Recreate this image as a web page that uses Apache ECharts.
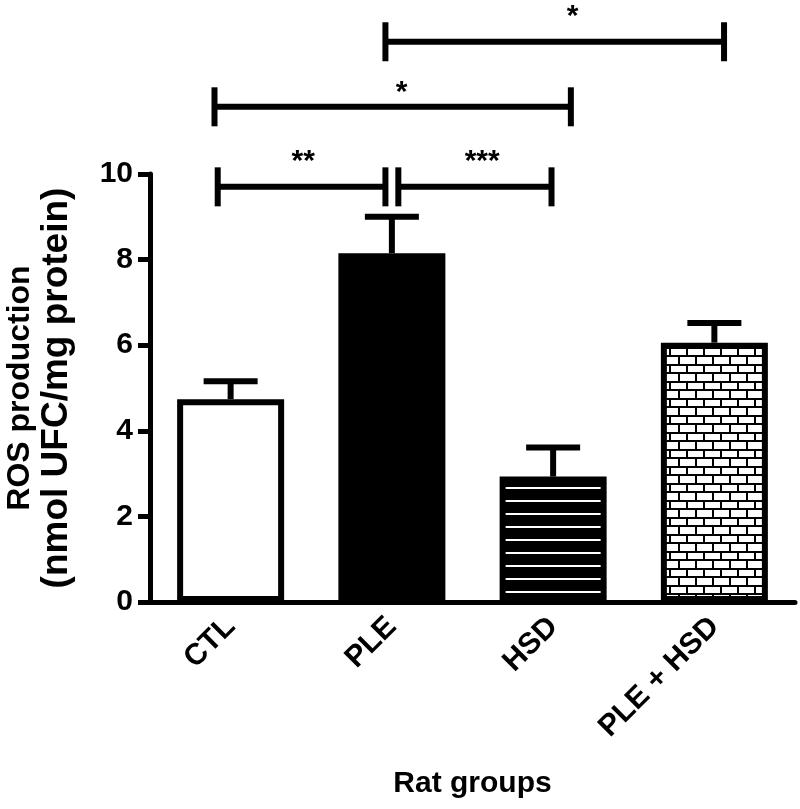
<!DOCTYPE html>
<html><head><meta charset="utf-8">
<script src="https://cdn.jsdelivr.net/npm/echarts@6/dist/echarts.min.js"></script>
<style>html,body{margin:0;padding:0;background:#fff}#c{width:800px;height:809px}</style>
</head><body><div id="c"></div>
<script>
// ---- data ----
const categories = ['CTL', 'PLE', 'HSD', 'PLE + HSD'];
const meanValues = [4.74, 8.15, 2.93, 6.06];
const errorTopValues = [5.16, 9.0, 3.61, 6.52];
const yTickValues = [0, 2, 4, 6, 8, 10];
// significance brackets (x in category units, level in y units)
const bracketStart = [-0.08, 1.04, -0.10, 0.96];
const bracketEnd = [0.96, 1.99, 2.11, 3.06];
const bracketLevel = [9.70, 9.70, 11.57, 13.09];
const bracketLabels = ['**', '***', '*', '*'];
const bracketLabelX = [0.45, 1.56, 1.06, 2.12];
const bracketLabelY = [10.44, 10.44, 12.06, 13.83];

// ---- patterns ----
function linePattern() {
  const c = document.createElement('canvas'); c.width = 10; c.height = 13;
  const g = c.getContext('2d');
  g.fillStyle = '#000'; g.fillRect(0, 0, 10, 13);
  g.fillStyle = '#fff'; g.fillRect(0, 6, 10, 2);
  return c;
}
function brickPattern() {
  const c = document.createElement('canvas'); c.width = 17; c.height = 17;
  const g = c.getContext('2d');
  g.fillStyle = '#000'; g.fillRect(0, 0, 17, 17);
  g.fillStyle = '#fff';
  g.fillRect(0, 0, 15, 7);
  g.fillRect(0, 9, 6, 6);
  g.fillRect(8, 9, 9, 6);
  return c;
}
const fills = [
  '#fff',
  '#000',
  { image: linePattern(), repeat: 'repeat' },
  { image: brickPattern(), repeat: 'repeat' }
];

const FONT = "'Liberation Sans', Arial, sans-serif";
const chart = echarts.init(document.getElementById('c'), null, { renderer: 'canvas' });

const barData = meanValues.map((v, i) => ({
  value: v,
  itemStyle: { color: fills[i], borderColor: '#000', borderWidth: 6 }
}));
const errData = meanValues.map((v, i) => [i, v, errorTopValues[i]]);
const bracketData = bracketStart.map((s, i) => [s, bracketEnd[i], bracketLevel[i], bracketLabelX[i], bracketLabelY[i], i]);

chart.setOption({
  backgroundColor: '#fff',
  animation: false,
  grid: { left: 150, right: 5, top: 174, bottom: 207, containLabel: false, outerBoundsMode: 'none' },
  xAxis: [{
    type: 'category',
    data: categories,
    axisLine: { onZero: false, lineStyle: { color: '#000', width: 5 } },
    axisTick: { alignWithLabel: true, length: 12, lineStyle: { color: '#000', width: 5 } },
    axisLabel: { rotate: 45, margin: 20, color: '#000', fontSize: 30, fontWeight: 'bold', fontFamily: FONT },
    name: 'Rat groups',
    nameLocation: 'middle',
    nameGap: 167,
    nameTextStyle: { color: '#000', fontSize: 30, fontWeight: 'bold', fontFamily: FONT }
  }, {
    type: 'value', min: -0.5, max: 3.5, show: false
  }],
  yAxis: {
    type: 'value', min: 0, max: 10, interval: 2,
    splitLine: { show: false },
    axisLine: { show: true, onZero: false, lineStyle: { color: '#000', width: 5 } },
    axisTick: { show: true, length: 12, lineStyle: { color: '#000', width: 5 } },
    axisLabel: { margin: 17, color: '#000', fontSize: 30, fontWeight: 'bold', fontFamily: FONT,
      customValues: yTickValues },
    name: '{a|ROS production}\n{b|(nmol UFC/mg protein)}',
    nameLocation: 'middle',
    nameGap: 74,
    nameTextStyle: { color: '#000', fontWeight: 'bold', fontFamily: FONT,
      rich: {
        a: { fontSize: 32, lineHeight: 36, fontWeight: 'bold', fontFamily: FONT, color: '#000' },
        b: { fontSize: 37, lineHeight: 38, fontWeight: 'bold', fontFamily: FONT, color: '#000' }
      } }
  },
  series: [{
    type: 'bar',
    data: barData,
    barWidth: 107,
    z: 2
  }, {
    type: 'custom',
    data: errData,
    z: 3,
    renderItem(params, api) {
      const pm = api.coord([api.value(0), api.value(1)]);
      const pt = api.coord([api.value(0), api.value(2)]);
      return { type: 'group', children: [
        { type: 'rect', shape: { x: pm[0] - 3, y: pt[1], width: 6, height: pm[1] - pt[1] }, style: { fill: '#000' } },
        { type: 'rect', shape: { x: pm[0] - 27, y: pt[1] - 3, width: 54, height: 6 }, style: { fill: '#000' } }
      ] };
    }
  }, {
    type: 'custom',
    xAxisIndex: 1,
    data: bracketData,
    clip: false,
    z: 4,
    renderItem(params, api) {
      const a = api.coord([api.value(0), api.value(2)]);
      const b = api.coord([api.value(1), api.value(2)]);
      const t = api.coord([api.value(3), api.value(4)]);
      return { type: 'group', children: [
        { type: 'rect', shape: { x: a[0], y: a[1] - 3, width: b[0] - a[0], height: 6 }, style: { fill: '#000' } },
        { type: 'rect', shape: { x: a[0] - 3, y: a[1] - 19.5, width: 6, height: 39 }, style: { fill: '#000' } },
        { type: 'rect', shape: { x: b[0] - 3, y: b[1] - 19.5, width: 6, height: 39 }, style: { fill: '#000' } },
        { type: 'text', style: { text: bracketLabels[api.value(5)], x: t[0], y: t[1] + 7,
          align: 'center', verticalAlign: 'middle', fill: '#000',
          font: "bold 30px 'Liberation Sans', Arial, sans-serif" } }
      ] };
    }
  }]
});
</script></body></html>
